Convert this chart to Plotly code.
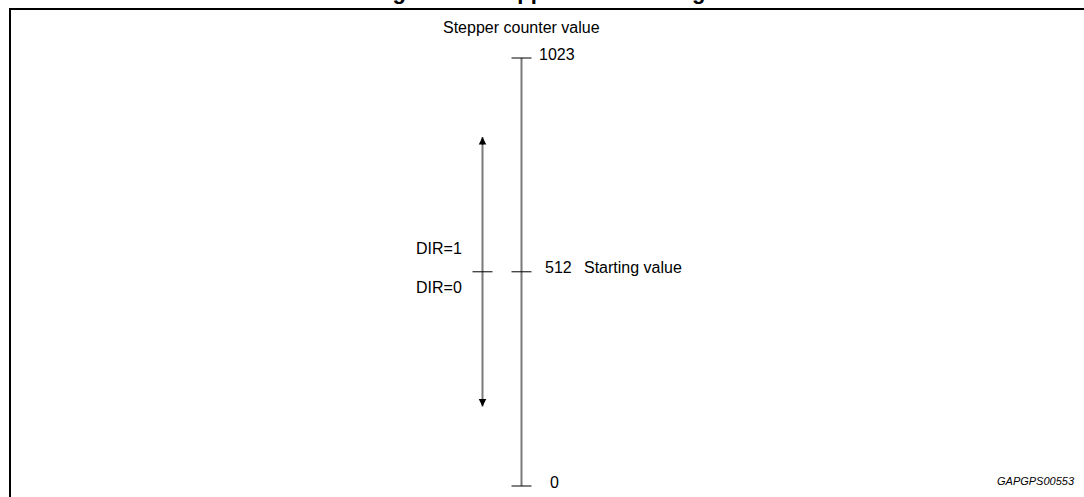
import plotly.graph_objects as go

# ---------------- data ----------------
figure_title = "Figure 16. Stepper counter range"
axis_title = "Stepper counter value"
counter_ticks = [0, 512, 1023]
tick_labels = ["0", "512", "1023"]
start_value = 512
start_label = "Starting value"
dir_range = [190, 834]
dir_labels = ["DIR=1", "DIR=0"]
figure_id = "GAPGPS00553"

# ---------------- layout constants (pixels) ----------------
W, H = 1084, 497
Y_ZERO_PX = 486.0
Y_TOP_PX = 58.0
scale = (Y_ZERO_PX - Y_TOP_PX) / max(counter_ticks)
y_lo = -(H - Y_ZERO_PX) / scale
y_hi = Y_ZERO_PX / scale

AXIS_X = 521.5
DIR_X = 482.5
TICK_HALF = 10
FONT = "Arial, Liberation Sans, Helvetica, sans-serif"
FS = 16
LINE_GREY = "#7a7a7a"

fig = go.Figure()

# main counter axis
fig.add_trace(go.Scatter(x=[AXIS_X, AXIS_X], y=[min(counter_ticks), max(counter_ticks)],
                         mode="lines", line=dict(color=LINE_GREY, width=2), hoverinfo="skip"))
# ticks on the counter axis
tx, ty = [], []
for v in counter_ticks:
    tx += [AXIS_X - TICK_HALF, AXIS_X + TICK_HALF, None]
    ty += [v, v, None]
fig.add_trace(go.Scatter(x=tx, y=ty, mode="lines", line=dict(color="black", width=1), hoverinfo="skip"))

# direction range line
fig.add_trace(go.Scatter(x=[DIR_X, DIR_X], y=dir_range, mode="lines",
                         line=dict(color=LINE_GREY, width=2), hoverinfo="skip"))
fig.add_trace(go.Scatter(x=[DIR_X - TICK_HALF, DIR_X + TICK_HALF], y=[start_value, start_value],
                         mode="lines", line=dict(color="black", width=1), hoverinfo="skip"))

ann = []
# arrowheads
ann.append(dict(x=DIR_X, y=max(dir_range), xref="x", yref="y", ax=0, ay=9, showarrow=True,
                arrowhead=2, arrowsize=1, arrowwidth=1.5, arrowcolor="black", text=""))
ann.append(dict(x=DIR_X, y=min(dir_range), xref="x", yref="y", ax=0, ay=-9, showarrow=True,
                arrowhead=2, arrowsize=1, arrowwidth=1.5, arrowcolor="black", text=""))

label_dx = {0: 26, 512: 21, 1023: 15}
for v, t in zip(counter_ticks, tick_labels):
    ann.append(dict(x=AXIS_X, y=v, xref="x", yref="y", text=t, showarrow=False,
                    xanchor="left", yanchor="middle", xshift=label_dx[v], yshift=4,
                    font=dict(family=FONT, size=FS, color="black")))
ann.append(dict(x=AXIS_X, y=start_value, xref="x", yref="y", text=start_label, showarrow=False,
                xanchor="left", yanchor="middle", xshift=60, yshift=4,
                font=dict(family=FONT, size=FS, color="black")))
ann.append(dict(x=414, y=start_value, xref="x", yref="y", text=dir_labels[0], showarrow=False,
                xanchor="left", yanchor="middle", yshift=23,
                font=dict(family=FONT, size=FS, color="black")))
ann.append(dict(x=414, y=start_value, xref="x", yref="y", text=dir_labels[1], showarrow=False,
                xanchor="left", yanchor="middle", yshift=-16,
                font=dict(family=FONT, size=FS, color="black")))
ann.append(dict(x=AXIS_X / W, y=1 - 27 / H, xref="paper", yref="paper", text=axis_title,
                showarrow=False, xanchor="center", yanchor="middle",
                font=dict(family=FONT, size=FS, color="black")))
ann.append(dict(x=1077 / W, y=1 - 481 / H, xref="paper", yref="paper", text="<i>" + figure_id + "</i>",
                showarrow=False, xanchor="right", yanchor="middle",
                font=dict(family=FONT, size=11, color="black")))
ann.append(dict(x=545 / W, y=1 - 6 / H, xref="paper", yref="paper", text="<b>" + figure_title + "</b>",
                showarrow=False, xanchor="center", yanchor="bottom",
                font=dict(family=FONT, size=22, color="black")))

shapes = [dict(type="path", xref="paper", yref="paper",
               path=f"M {10/W},0 L {10/W},{1-9/H} L 1,{1-9/H}",
               line=dict(color="black", width=2))]

fig.update_layout(
    width=W, height=H, margin=dict(l=0, r=0, t=0, b=0),
    paper_bgcolor="white", plot_bgcolor="white", showlegend=False,
    xaxis=dict(range=[0, W], visible=False, fixedrange=True),
    yaxis=dict(range=[y_lo, y_hi], visible=False, fixedrange=True),
    annotations=ann, shapes=shapes,
)

fig.write_html("out.html", config={"displayModeBar": False},
               post_script="document.body.style.margin='0';document.body.style.overflow='hidden';")
